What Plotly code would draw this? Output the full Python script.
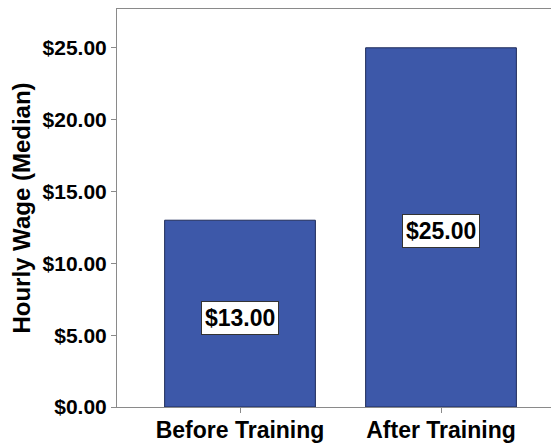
import plotly.graph_objects as go

categories = ["Before Training", "After Training"]
values = [13.00, 25.00]
y_ticks = [0, 5, 10, 15, 20, 25]
y_tick_labels = ["$0.00", "$5.00", "$10.00", "$15.00", "$20.00", "$25.00"]
bar_labels = ["$13.00", "$25.00"]

FONT = "Liberation Sans, Arial, sans-serif"
AXIS = "#8a8a8a"

fig = go.Figure()
fig.add_trace(go.Bar(
    x=categories, y=values, width=0.75,
    marker=dict(color="#3d58a9", line=dict(color="#1e2b5a", width=1)),
    hoverinfo="skip",
))

for c, v, lab in zip(categories, values, bar_labels):
    fig.add_annotation(
        x=c, y=v / 2, yshift=-4, text="<b>" + lab + "</b>", showarrow=False,
        font=dict(family=FONT, size=23, color="black"),
        bgcolor="white", bordercolor="#333333", borderwidth=1, borderpad=3,
    )

fig.update_layout(
    width=551, height=435,
    margin=dict(l=109, r=0, t=1, b=36),
    paper_bgcolor="white", plot_bgcolor="white",
    showlegend=False,
    font=dict(family=FONT, color="black"),
    xaxis=dict(
        range=[-0.612, 1.587],
        showline=True, linecolor=AXIS, linewidth=1, mirror=True,
        ticks="outside", ticklen=5, tickcolor=AXIS,
        ticklabelstandoff=-3,
        tickfont=dict(family=FONT, size=23, color="black", weight="bold"),
        showgrid=False, zeroline=False, automargin=False,
    ),
    yaxis=dict(
        range=[0, 27.7],
        tickvals=y_ticks, ticktext=["<b>" + t + "</b>" for t in y_tick_labels],
        showline=True, linecolor=AXIS, linewidth=1, mirror=False,
        ticks="outside", ticklen=5, tickcolor=AXIS,
        tickfont=dict(family=FONT, size=21, color="black"),
        showgrid=False, zeroline=False, automargin=False,
        title=dict(text="<b>Hourly Wage (Median)</b>", font=dict(family=FONT, size=24, color="black"), standoff=14),
    ),
)

fig.write_html("out.html")
